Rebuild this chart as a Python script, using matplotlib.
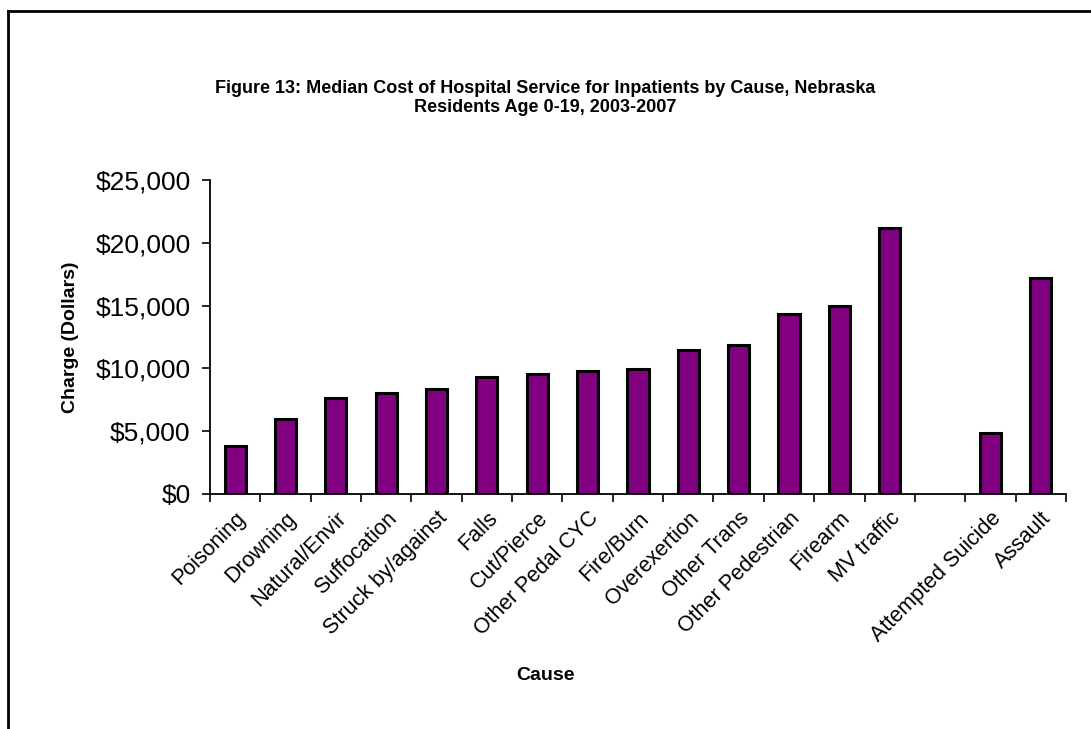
import matplotlib
matplotlib.use("Agg")
import matplotlib.pyplot as plt
from matplotlib.ticker import FuncFormatter, FixedLocator
from matplotlib.lines import Line2D

# Median hospital charge by cause of injury (dollars)
causes = ["Poisoning", "Drowning", "Natural/Envir", "Suffocation", "Struck by/against",
          "Falls", "Cut/Pierce", "Other Pedal CYC", "Fire/Burn", "Overexertion",
          "Other Trans", "Other Pedestrian", "Firearm", "MV traffic", "",
          "Attempted Suicide", "Assault"]
charges = [3800, 6000, 7625, 8000, 8340, 9300, 9565, 9780, 9935, 11500,
           11900, 14350, 14930, 21200, None, 4890, 17160]
y_ticks = [0, 5000, 10000, 15000, 20000, 25000]

font = ["Liberation Sans", "DejaVu Sans"]

fig = plt.figure(figsize=(10.91, 7.29), dpi=100)
ax = fig.add_axes([0.1925, 0.3224, 0.7845, 0.4307])

xs = [i for i, v in enumerate(charges) if v is not None]
vals = [v for v in charges if v is not None]
ax.bar(xs, vals, width=0.42, color="#800080", edgecolor="black", linewidth=2.2, zorder=3)

ax.set_xlim(-0.5, len(causes) - 0.5)
ax.set_ylim(0, 25000)
ax.yaxis.set_major_locator(FixedLocator(y_ticks))
ax.yaxis.set_major_formatter(FuncFormatter(lambda v, p: "${:,.0f}".format(v)))

# ticks sit between categories; labels at category centres
ax.set_xticks([i - 0.5 for i in range(len(causes) + 1)])
ax.set_xticklabels([])
ax.set_xticks(range(len(causes)), minor=True)
ax.set_xticklabels(causes, minor=True, rotation=45, ha="right", rotation_mode="anchor",
                   fontsize=15.5, family=font)
ax.tick_params(axis="x", which="minor", length=0, pad=10)
ax.tick_params(axis="x", which="major", length=6, width=1.2, direction="out")
ax.tick_params(axis="y", length=6, width=1.2, direction="out", pad=8)
for lab in ax.get_yticklabels():
    lab.set_fontsize(19)
    lab.set_family(font)

for s in ("top", "right"):
    ax.spines[s].set_visible(False)
for s in ("left", "bottom"):
    ax.spines[s].set_linewidth(1.3)

ax.set_ylabel("Charge (Dollars)", fontsize=14, fontweight="bold", family=font, labelpad=12)
fig.text(0.5, 0.074, "Cause", ha="center", va="center", fontsize=14,
         fontweight="bold", family=font)

fig.text(0.5, 0.878, "Figure 13: Median Cost of Hospital Service for Inpatients by Cause, Nebraska",
         ha="center", va="center", fontsize=13, fontweight="bold", family=font)
fig.text(0.5, 0.853, "Residents Age 0-19, 2003-2007",
         ha="center", va="center", fontsize=13, fontweight="bold", family=font)

# outer frame (left and top edges)
fig.add_artist(Line2D([0.0075, 0.0075], [0.0, 0.985], transform=fig.transFigure,
                      color="black", linewidth=2))
fig.add_artist(Line2D([0.0075, 1.0], [0.985, 0.985], transform=fig.transFigure,
                      color="black", linewidth=2))

fig.savefig("out.png", dpi=100)
